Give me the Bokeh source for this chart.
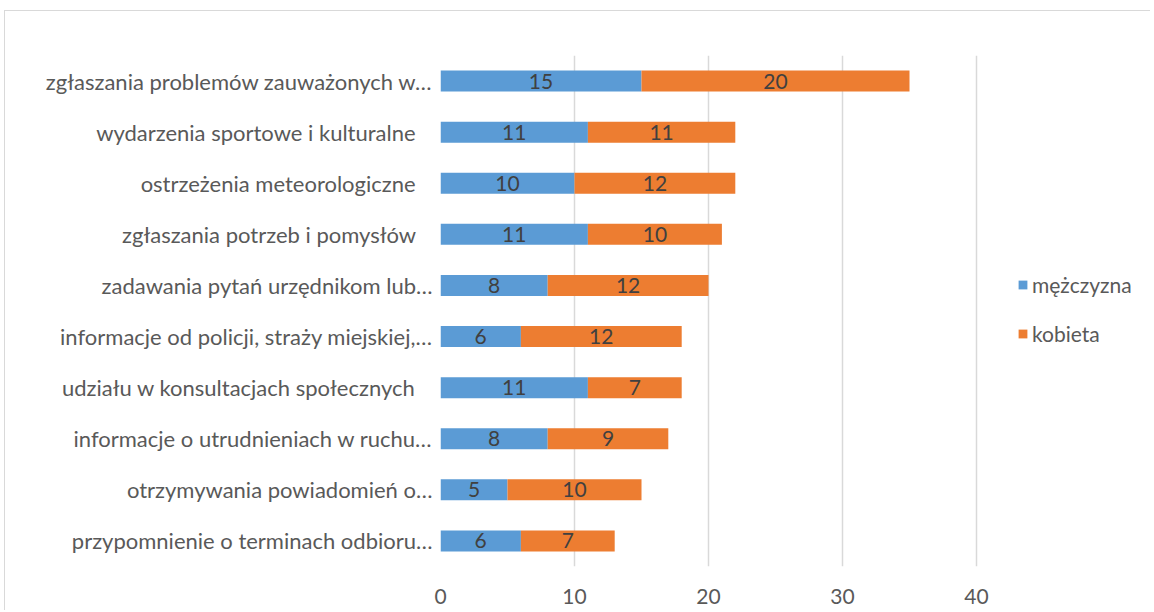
from bokeh.plotting import figure
from bokeh.models import FactorRange, Legend, LegendItem, FixedTicker, ColumnDataSource
from bokeh.core.properties import value
from bokeh.embed import file_html
from bokeh.resources import INLINE

NB = "\u00a0\u00a0\u00a0"
categories = [
    "zgłaszania problemów zauważonych w…",
    "wydarzenia sportowe i kulturalne" + NB,
    "ostrzeżenia meteorologiczne" + NB,
    "zgłaszania potrzeb i pomysłów" + NB,
    "zadawania pytań urzędnikom lub…",
    "informacje od policji, straży miejskiej,…",
    "udziału w konsultacjach społecznych" + NB,
    "informacje o utrudnieniach w ruchu…",
    "otrzymywania powiadomień o…",
    "przypomnienie o terminach odbioru…",
]
mezczyzna = [15, 11, 10, 11, 8, 6, 11, 8, 5, 6]
kobieta = [20, 11, 12, 10, 12, 12, 7, 9, 10, 7]
series_names = ["mężczyzna", "kobieta"]
x_ticks = [0, 10, 20, 30, 40]
axis_max = 40

FONT = "Lato"
FS = "21px"
FS_CAT = "22px"
BLUE = "#5B9BD5"
ORANGE = "#ED7D31"

W, H = 1146, 600
MB_LEFT, MB_TOP, MB_BOTTOM = 435, 44, 45
AXIS_PX = 536  # pixel length of 0..40
frame_w = W - MB_LEFT
x_end = axis_max * frame_w / AXIS_PX

factors = list(reversed(categories))
p = figure(
    y_range=FactorRange(factors=factors, range_padding=0),
    x_range=(0, x_end),
    width=W, height=H,
    output_backend="svg", toolbar_location=None,
    min_border_left=MB_LEFT, min_border_right=0,
    min_border_top=MB_TOP, min_border_bottom=MB_BOTTOM,
)
p.y_range.factor_padding = 0
p.outline_line_color = None
p.background_fill_color = "white"

src = ColumnDataSource(dict(
    cat=categories,
    m_end=mezczyzna,
    k_start=mezczyzna,
    k_end=[a + b for a, b in zip(mezczyzna, kobieta)],
    m_mid=[a / 2 for a in mezczyzna],
    k_mid=[a + b / 2 for a, b in zip(mezczyzna, kobieta)],
    m_lbl=[str(v) for v in mezczyzna],
    k_lbl=[str(v) for v in kobieta],
))

r1 = p.hbar(y="cat", left=0, right="m_end", height=0.41, source=src,
            fill_color=BLUE, line_color=None)
r2 = p.hbar(y="cat", left="k_start", right="k_end", height=0.41, source=src,
            fill_color=ORANGE, line_color=None)

for xcol, tcol in (("m_mid", "m_lbl"), ("k_mid", "k_lbl")):
    p.text(x=xcol, y="cat", text=tcol, source=src,
           text_align="center", text_baseline="middle",
           text_font=value(FONT), text_font_size=FS, text_color="#404040")

p.xgrid.ticker = FixedTicker(ticks=x_ticks)
p.xgrid.grid_line_color = "#D9D9D9"
p.xgrid.grid_line_width = 1.5
p.ygrid.grid_line_color = None

p.xaxis.ticker = FixedTicker(ticks=x_ticks)
p.xaxis.axis_line_color = None
p.xaxis.major_tick_line_color = None
p.xaxis.minor_tick_line_color = None
p.xaxis.major_label_text_font = FONT
p.xaxis.major_label_text_font_size = FS
p.xaxis.major_label_text_color = "#595959"
p.xaxis.major_label_standoff = 16

p.yaxis.axis_line_color = None
p.yaxis.major_tick_line_color = None
p.yaxis.minor_tick_line_color = None
p.yaxis.major_label_text_font = FONT
p.yaxis.major_label_text_font_size = FS_CAT
p.yaxis.major_label_text_color = "#595959"
p.yaxis.major_label_standoff = 2

legend = Legend(
    items=[LegendItem(label=series_names[0], renderers=[r1]),
           LegendItem(label=series_names[1], renderers=[r2])],
    location=(577, 220),
    glyph_width=11, glyph_height=11, label_standoff=4,
    label_height=20, spacing=24, padding=0, margin=0,
    label_text_font=FONT, label_text_font_size=FS,
    label_text_color="#595959", border_line_color=None,
    background_fill_alpha=0,
)
p.add_layout(legend)
p.styles = {"border-left": "1px solid #D9D9D9", "border-top": "1px solid #D9D9D9",
            "margin-left": "4px", "margin-top": "10px"}

open("out.html", "w").write(file_html(p, INLINE))
